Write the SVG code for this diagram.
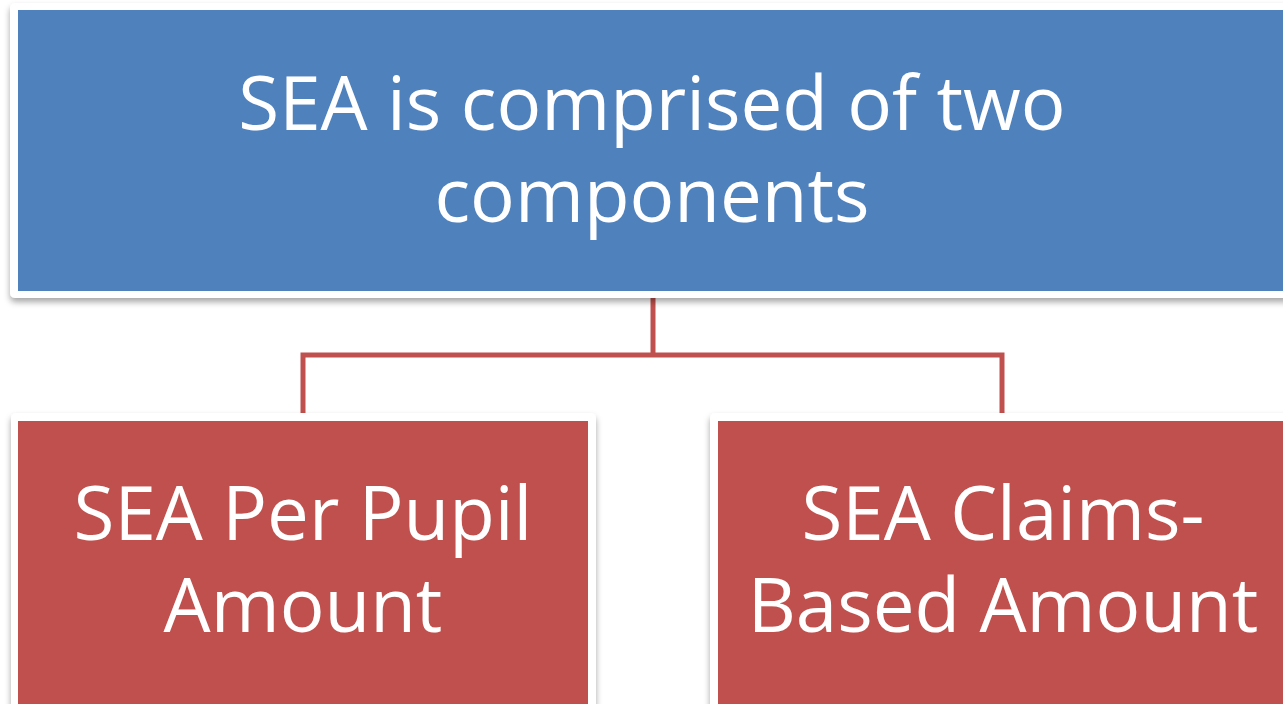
<svg xmlns="http://www.w3.org/2000/svg" width="1283" height="704" viewBox="0 0 1283 704">
<defs>
<filter id="sh" x="-10%" y="-10%" width="120%" height="130%">
<feDropShadow dx="0" dy="4" stdDeviation="3" flood-color="#000" flood-opacity="0.35"/>
</filter>
</defs>
<style>
.frame{fill:#fff;filter:url(#sh)}
.blue{fill:#4f81bd}
.red{fill:#c0504d}
.t{font-family:"Open Sans","Liberation Sans",sans-serif;fill:#fff;text-anchor:middle;font-size:74.5px}
.conn{stroke:#c0504d;stroke-width:5;fill:none}
</style>
<rect width="1283" height="704" fill="#fff"/>
<g id="connectors">
<path class="conn" d="M653,298 V355 M303,413 V355 H1002 V413"/>
</g>
<g id="top">
<rect class="frame" x="10" y="3" width="1290" height="295" rx="5"/>
<rect class="blue" x="18" y="10" width="1280" height="281"/>
<text class="t" x="652" y="130">SEA is comprised of two</text>
<text class="t" x="652" y="222">components</text>
</g>
<g id="left">
<rect class="frame" x="11" y="413" width="585" height="300" rx="5"/>
<rect class="red" x="18" y="421" width="570" height="290"/>
<text class="t" x="303" y="540">SEA Per Pupil</text>
<text class="t" x="303" y="632">Amount</text>
</g>
<g id="right">
<rect class="frame" x="710" y="413" width="590" height="300" rx="5"/>
<rect class="red" x="718" y="421" width="580" height="290"/>
<text class="t" x="1003" y="540">SEA Claims-</text>
<text class="t" x="1003" y="632">Based Amount</text>
</g>
</svg>
